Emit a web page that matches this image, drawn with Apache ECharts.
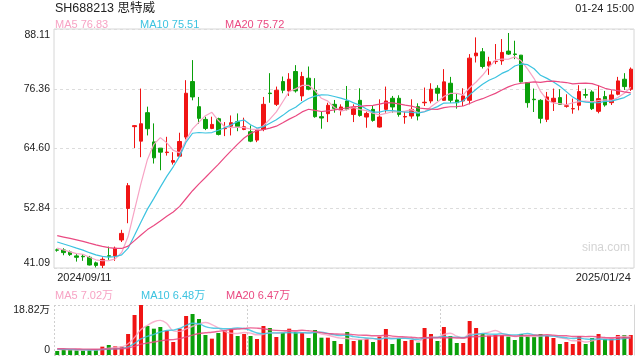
<!DOCTYPE html>
<html>
<head>
<meta charset="utf-8">
<script src="https://cdn.jsdelivr.net/npm/echarts@6/dist/echarts.min.js"></script>
<style>html,body{margin:0;padding:0;background:#fff;}#c{width:640px;height:360px;}</style>
</head>
<body>
<div id="c"></div>
<script>
const categories = [
 '2024/09/11','2024/09/12','2024/09/13','2024/09/18','2024/09/19','2024/09/20','2024/09/23','2024/09/24','2024/09/25','2024/09/26','2024/09/27','2024/09/30',
 '2024/10/08','2024/10/09','2024/10/10','2024/10/11','2024/10/14','2024/10/15','2024/10/16','2024/10/17','2024/10/18','2024/10/21','2024/10/22','2024/10/23','2024/10/24','2024/10/25','2024/10/28','2024/10/29','2024/10/30','2024/10/31',
 '2024/11/01','2024/11/04','2024/11/05','2024/11/06','2024/11/07','2024/11/08','2024/11/11','2024/11/12','2024/11/13','2024/11/14','2024/11/15','2024/11/18','2024/11/19','2024/11/20','2024/11/21','2024/11/22','2024/11/25','2024/11/26','2024/11/27','2024/11/28','2024/11/29',
 '2024/12/02','2024/12/03','2024/12/04','2024/12/05','2024/12/06','2024/12/09','2024/12/10','2024/12/11','2024/12/12','2024/12/13','2024/12/16','2024/12/17','2024/12/18','2024/12/19','2024/12/20','2024/12/23','2024/12/24','2024/12/25','2024/12/26','2024/12/27','2024/12/30','2024/12/31',
 '2025/01/02','2025/01/03','2025/01/06','2025/01/07','2025/01/08','2025/01/09','2025/01/10','2025/01/13','2025/01/14','2025/01/15','2025/01/16','2025/01/17','2025/01/20','2025/01/21','2025/01/22','2025/01/23','2025/01/24'
];
const opens = [44.65,44.65,44.25,43.47,43.40,43.20,42.10,41.62,43.50,43.46,46.60,52.80,68.90,66.05,71.65,65.90,64.67,63.80,61.90,63.09,
 66.84,77.77,72.83,70.33,68.55,70.46,68.50,69.00,69.87,68.36,67.90,66.25,68.36,75.50,73.29,77.77,75.93,79.75,74.94,78.43,
 76.06,70.86,71.45,73.29,72.11,73.95,71.30,74.08,70.79,72.30,68.82,72.30,74.48,74.48,70.80,70.99,72.83,73.60,73.95,76.45,
 74.08,77.44,74.15,73.95,74.08,82.84,83.63,80.87,81.70,81.85,83.76,83.20,82.97,77.57,74.30,74.08,70.33,73.75,74.61,72.90,
 72.40,73.10,75.20,75.73,71.91,74.81,73.62,75.27,78.23,76.26];
const closes = [44.60,44.12,43.73,43.20,43.30,41.68,41.60,42.80,43.40,44.98,47.90,57.29,69.10,69.47,68.49,62.76,63.88,63.90,62.23,65.98,
 75.47,74.74,70.53,68.55,69.34,67.37,68.60,69.67,68.95,68.88,66.05,68.22,73.29,75.40,76.06,76.06,78.23,75.93,78.76,76.26,
 70.86,70.60,73.10,72.50,72.77,72.30,72.63,71.10,71.50,70.13,70.79,73.95,72.77,71.30,70.90,72.30,70.99,73.70,76.26,75.47,
 77.71,74.08,73.62,74.94,82.38,83.37,80.73,81.66,81.75,83.50,83.17,83.10,77.71,73.62,74.20,70.53,74.74,74.48,73.29,73.00,
 72.45,75.80,75.10,72.44,74.41,73.16,75.14,77.90,76.78,80.21];
const lows = [44.30,43.60,43.47,42.35,42.50,41.60,41.20,41.09,42.70,42.50,46.20,49.90,64.70,62.89,67.17,61.64,60.32,63.20,61.44,63.00,
 66.38,74.08,69.47,68.22,68.40,67.17,67.04,67.17,68.00,68.20,65.85,65.85,68.00,73.60,72.96,75.47,74.94,75.60,73.95,76.06,
 70.66,68.49,69.80,71.65,71.10,72.10,69.80,70.86,68.68,69.87,68.70,71.65,71.65,70.86,69.47,70.46,70.13,72.96,73.49,73.95,
 73.95,73.60,72.44,72.96,73.29,81.52,80.34,79.09,81.20,81.06,83.00,82.18,77.60,72.63,71.78,69.54,69.80,71.98,73.20,72.63,
 71.45,72.11,74.48,72.17,71.52,72.83,73.16,75.07,76.13,75.93];
const highs = [44.90,44.98,44.52,43.86,43.80,43.47,42.35,43.20,45.30,45.30,48.60,57.80,69.20,76.39,72.83,69.54,64.70,66.90,63.88,67.70,
 78.04,81.99,74.74,70.86,70.86,70.66,69.80,71.10,71.50,70.66,69.14,68.50,74.74,79.42,76.78,78.76,79.42,81.00,79.68,80.73,
 78.43,71.98,73.60,74.15,73.29,76.90,73.29,76.45,71.85,73.16,74.28,76.78,74.94,75.07,71.98,74.28,73.49,76.59,77.44,77.05,
 80.21,78.69,75.40,76.45,83.17,86.46,84.36,82.64,85.15,86.13,87.32,85.80,83.00,77.60,76.39,74.30,75.73,76.39,76.26,75.27,
 74.41,77.05,76.39,76.06,77.05,75.93,76.06,78.69,79.42,80.54];
// volume in 万
const volumes = [1.51,2.00,2.00,1.76,1.76,2.00,2.00,3.14,3.76,3.26,3.14,7.90,15.06,18.82,10.92,9.91,10.54,9.16,4.89,9.91,
 14.68,15.43,13.55,7.53,6.15,8.28,9.16,9.79,7.15,7.90,7.15,6.02,10.92,10.16,6.78,8.41,9.91,8.66,8.41,6.40,
 9.41,6.52,6.52,5.27,4.14,8.66,5.27,5.77,6.15,4.89,6.90,9.79,4.14,6.27,5.27,5.65,4.64,10.16,7.90,5.27,
 10.54,7.15,4.52,4.52,12.80,10.16,8.28,7.28,7.53,7.53,6.90,5.65,7.90,7.15,6.90,7.90,7.15,6.40,4.14,4.89,
 4.14,7.15,4.14,6.40,7.90,6.02,6.40,7.53,7.53,7.53];
// estimated history before the window (seeds the moving averages)
const prevCloses = [49.5,49.2,48.9,49.0,48.6,48.4,48.8,48.5,48.2,47.9,48.0,47.6,47.5,47.1,46.8,46.0,45.5,44.9,44.0];
const prevVolumes = [2.6,2.5,2.4,2.7,2.5,2.6,2.4,2.5,2.6,2.4,2.5,2.3,2.4,2.2,2.3,2.2,2.3,2.1,2.2];
const priceTicks = ['41.09','52.84','64.60','76.36','88.11'];
const volTicks = ['0','18.82万'];
const priceLegend = ['MA5 76.83','MA10 75.51','MA20 75.72'];
const volLegend = ['MA5 7.02万','MA10 6.48万','MA20 6.47万'];

const UP = '#f01414', DOWN = '#0aa00a';
const MA_COLORS = ['#f7a3c4','#3cc3e0','#ea4a82'];
const FONT = '"Liberation Sans", Arial, "Noto Sans CJK SC", sans-serif';

function ma(n, hist, vals) {
  const all = hist.concat(vals);
  return vals.map((_, i) => {
    let s = 0;
    for (let k = 0; k < n; k++) s += all[hist.length + i - k];
    return +(s / n).toFixed(3);
  });
}

const kData = opens.map((o, i) => [o, closes[i], lows[i], highs[i]]);
const volData = volumes.map((v, i) => ({
  value: v,
  itemStyle: { color: closes[i] >= opens[i] ? UP : DOWN }
}));
const pMin = 41.09, pMax = 88.11, pStep = (pMax - pMin) / 4;
const vMax = 18.82;

const chart = echarts.init(document.getElementById('c'), null, { renderer: 'canvas' });
const periods = [5, 10, 20];

const legendTexts = [];
[0, 1, 2].forEach(k => {
  legendTexts.push({ type: 'text', left: [55, 140, 225][k], top: 19, style: { text: priceLegend[k], fill: MA_COLORS[k], font: '11px ' + FONT } });
  legendTexts.push({ type: 'text', left: [55, 141, 226][k], top: 290, style: { text: volLegend[k], fill: MA_COLORS[k], font: '11px ' + FONT } });
});

chart.setOption({
  animation: false,
  backgroundColor: '#fff',
  textStyle: { fontFamily: FONT },
  graphic: [
    { type: 'text', left: 55, top: 2, style: { text: 'SH688213 思特威', fill: '#222', font: '12.5px ' + FONT } },
    { type: 'text', right: 6, top: 3, style: { text: '01-24 15:00', fill: '#222', font: '11px ' + FONT } },
    { type: 'text', left: 582, top: 242, style: { text: 'sina.com', fill: '#d4d4d4', font: '12px ' + FONT } }
  ].concat(legendTexts),
  grid: [
    { left: 54, right: 6, top: 29, height: 239, show: true, borderColor: '#d6d6d6', borderWidth: 1, backgroundColor: 'transparent' },
    { left: 54, right: 6, top: 305, height: 50 }
  ],
  xAxis: [
    {
      type: 'category', gridIndex: 0, data: categories, boundaryGap: true,
      axisLine: { show: false }, axisTick: { show: false }, splitLine: { show: false },
      axisLabel: {
        show: true, color: '#222', fontSize: 11, margin: 4,
        interval: (idx) => idx === 0 || idx === categories.length - 1,
        alignMinLabel: 'left', alignMaxLabel: 'right',
        formatter: (v, idx) => v,
        rich: {}
      }
    },
    {
      type: 'category', gridIndex: 1, data: categories, boundaryGap: true,
      axisLine: { show: false }, axisTick: { show: false }, axisLabel: { show: false },
      splitLine: { show: true, interval: (idx) => idx % 30 === 0 && idx < categories.length, lineStyle: { color: '#cfcfcf', type: [2, 2], width: 1 } }
    }
  ],
  yAxis: [
    {
      type: 'value', gridIndex: 0, min: pMin, max: pMax, interval: pStep, scale: true,
      axisLine: { show: false }, axisTick: { show: false },
      axisLabel: {
        color: '#222', fontSize: 10.5, margin: 4,
        formatter: (v) => {
          const i = Math.round((v - pMin) / pStep);
          if (i === 4) return '{top|' + priceTicks[i] + '}';
          if (i === 0) return '{bot|' + priceTicks[i] + '}';
          return priceTicks[i];
        },
        rich: {
          top: { fontSize: 10.5, color: '#222', padding: [12, 0, 0, 0] },
          bot: { fontSize: 10.5, color: '#222', padding: [0, 0, 10, 0] }
        }
      },
      splitLine: { show: true, lineStyle: { color: '#dcdcdc', type: [3, 3], width: 1 } }
    },
    {
      type: 'value', gridIndex: 1, min: 0, max: vMax, interval: vMax,
      axisLine: { show: false }, axisTick: { show: false },
      axisLabel: {
        color: '#222', fontSize: 10.5, margin: 4,
        formatter: (v) => volTicks[Math.round(v / vMax)],
        verticalAlignMinLabel: 'bottom', verticalAlignMaxLabel: 'top'
      },
      splitLine: { show: true, lineStyle: { color: '#cfcfcf', type: [2, 2], width: 1 } }
    },
    {
      type: 'value', gridIndex: 1, position: 'right', min: 0, max: 1,
      axisLine: { show: true, lineStyle: { color: '#d6d6d6', width: 1 } },
      axisTick: { show: false }, axisLabel: { show: false }, splitLine: { show: false }
    }
  ],
  series: [
    {
      type: 'candlestick', xAxisIndex: 0, yAxisIndex: 0, data: kData, barWidth: 4,
      itemStyle: { color: UP, color0: DOWN, borderColor: UP, borderColor0: DOWN, borderWidth: 1 }
    }
  ].concat(periods.map((n, k) => ({
    type: 'line', xAxisIndex: 0, yAxisIndex: 0, data: ma(n, prevCloses, closes),
    symbol: 'none', smooth: false, lineStyle: { color: MA_COLORS[k], width: 1.2 }, z: 3
  }))).concat([
    { type: 'bar', xAxisIndex: 1, yAxisIndex: 1, data: volData, barWidth: 4 }
  ]).concat(periods.map((n, k) => ({
    type: 'line', xAxisIndex: 1, yAxisIndex: 1, data: ma(n, prevVolumes, volumes),
    symbol: 'none', smooth: 0.4, lineStyle: { color: MA_COLORS[k], width: 1.4, opacity: 0.85 }, z: 3
  })))
});
</script>
</body>
</html>
